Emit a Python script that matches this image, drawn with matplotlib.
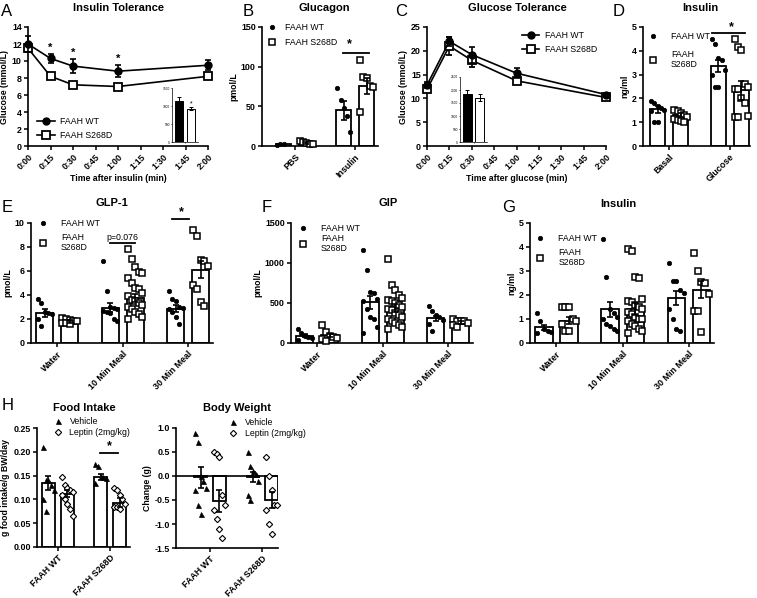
import numpy as np
import matplotlib
matplotlib.use('Agg')
import matplotlib.pyplot as plt
from matplotlib.lines import Line2D

plt.rcParams['font.family'] = ['Liberation Sans', 'DejaVu Sans']
plt.rcParams['axes.linewidth'] = 1.2
plt.rcParams['xtick.major.width'] = 1.1
plt.rcParams['ytick.major.width'] = 1.1
plt.rcParams['xtick.major.size'] = 3
plt.rcParams['ytick.major.size'] = 3
plt.rcParams['xtick.major.pad'] = 1.5
plt.rcParams['ytick.major.pad'] = 1.5

W, H = 757, 598

# ---------------- data ----------------
# A: insulin tolerance
itt_time = [0, 15, 30, 60, 120]
itt_wt = [12.0, 10.3, 9.4, 8.8, 9.5]
itt_wt_err = [0.9, 0.5, 0.8, 0.7, 0.6]
itt_ki = [11.5, 8.2, 7.2, 7.0, 8.2]
itt_ki_err = [0.4, 0.3, 0.2, 0.2, 0.3]
itt_star_times = [15, 30, 60]
itt_auc = [1150, 930]
itt_auc_err = [100, 30]

# C: glucose tolerance
gtt_time = [0, 15, 30, 60, 120]
gtt_wt = [12.8, 22.0, 19.2, 15.3, 10.8]
gtt_wt_err = [0.7, 1.0, 1.7, 1.0, 0.4]
gtt_ki = [11.9, 21.0, 18.0, 13.7, 10.2]
gtt_ki_err = [0.6, 1.8, 1.5, 0.5, 0.4]
gtt_auc = [1850, 1700]
gtt_auc_err = [150, 130]

time_ticks = [0, 15, 30, 45, 60, 75, 90, 105, 120]
time_labels = ['0:00', '0:15', '0:30', '0:45', '1:00', '1:15', '1:30', '1:45', '2:00']

# B: glucagon
glucagon_cats = ['PBS', 'Insulin']
glucagon_wt_mean = [2, 45]
glucagon_wt_sem = [0.5, 12]
glucagon_wt_pts = [[1, 2, 2], [73, 58, 48, 38, 18]]
glucagon_ki_mean = [4, 76]
glucagon_ki_sem = [1, 10]
glucagon_ki_pts = [[6, 5, 4, 3, 2], [108, 87, 86, 76, 75, 43]]

# D: insulin after glucose
ins_cats = ['Basal', 'Glucose']
ins_wt_mean = [1.55, 3.38]
ins_wt_sem = [0.15, 0.25]
ins_wt_pts = [[1.9, 1.8, 1.7, 1.6, 1.5, 1.45, 1.0, 1.0],
              [4.5, 4.3, 3.7, 3.6, 3.2, 3.0, 2.5, 2.5]]
ins_ki_mean = [1.3, 2.35]
ins_ki_sem = [0.07, 0.4]
ins_ki_pts = [[1.5, 1.45, 1.4, 1.3, 1.2, 1.15, 1.1, 1.05, 1.0],
              [4.5, 4.15, 4.05, 2.6, 2.5, 2.4, 2.4, 2.0, 1.8, 1.25, 1.2, 1.2]]

meal_cats = ['Water', '10 Min Meal', '30 Min Meal']

# E: GLP-1
glp_wt_mean = [2.5, 2.95, 2.85]
glp_wt_sem = [0.3, 0.35, 0.3]
glp_wt_pts = [[3.7, 3.3, 2.6, 2.5, 2.4, 2.0, 1.4],
              [6.8, 4.3, 3.0, 2.9, 2.8, 2.7, 2.6, 2.5, 2.0, 1.8],
              [4.3, 3.7, 3.5, 3.0, 2.9, 2.8, 2.6, 2.2, 1.6]]
glp_ki_mean = [1.8, 3.75, 6.1]
glp_ki_sem = [0.1, 0.35, 0.7]
glp_ki_pts = [[2.1, 2.0, 1.9, 1.8, 1.8, 1.7, 1.7, 1.6],
              [7.8, 7.0, 6.3, 5.9, 5.8, 5.4, 5.0, 4.6, 4.5, 4.2, 3.9, 3.6,
               3.5, 3.3, 3.2, 3.0, 2.8, 2.6, 2.4, 2.2, 2.0],
              [9.4, 8.9, 6.9, 6.8, 6.4, 4.8, 4.5, 3.4, 3.1]]

# F: GIP
gip_wt_mean = [90, 510, 310]
gip_wt_sem = [20, 80, 30]
gip_wt_pts = [[170, 130, 90, 80, 60, 40],
              [1160, 910, 640, 620, 550, 520, 420, 320, 300, 200, 120],
              [460, 400, 350, 320, 290, 240, 150]]
gip_ki_mean = [95, 440, 255]
gip_ki_sem = [20, 50, 15]
gip_ki_pts = [[225, 140, 90, 70, 60, 50, 30],
              [1050, 730, 660, 600, 560, 540, 530, 500, 470, 450, 420, 410,
               380, 350, 320, 300, 280, 250, 220, 200, 180],
              [300, 280, 280, 270, 250, 230, 200]]

# G: insulin after meal
mins_wt_mean = [0.65, 1.4, 1.87]
mins_wt_sem = [0.12, 0.3, 0.3]
mins_wt_pts = [[1.25, 0.9, 0.6, 0.5, 0.45, 0.4],
               [4.35, 2.75, 1.4, 1.25, 1.1, 1.0, 0.8, 0.7, 0.6, 0.5],
               [3.35, 2.6, 2.6, 2.2, 2.1, 1.4, 1.0, 0.6, 0.5]]
mins_ki_mean = [0.93, 1.4, 2.22]
mins_ki_sem = [0.15, 0.25, 0.35]
mins_ki_pts = [[1.5, 1.5, 1.5, 1.0, 0.9, 0.8, 0.5, 0.5],
               [3.9, 3.85, 2.75, 2.7, 1.85, 1.75, 1.7, 1.6, 1.5, 1.4, 1.3,
                1.2, 1.1, 1.0, 1.0, 0.9, 0.8, 0.7, 0.6, 0.5, 0.4],
               [3.75, 3.0, 2.55, 2.5, 2.05, 1.35, 1.35, 0.45]]

# H: leptin
geno_cats = ['FAAH WT', 'FAAH S268D']
food_veh_mean = [0.135, 0.147]
food_veh_sem = [0.015, 0.007]
food_veh_pts = [[0.21, 0.14, 0.14, 0.13, 0.12, 0.10, 0.075],
                [0.175, 0.17, 0.15, 0.148, 0.145, 0.135]]
food_lep_mean = [0.112, 0.093]
food_lep_sem = [0.008, 0.01]
food_lep_pts = [[0.147, 0.13, 0.125, 0.12, 0.115, 0.11, 0.10, 0.09, 0.08, 0.065],
                [0.123, 0.12, 0.11, 0.10, 0.09, 0.085, 0.085, 0.08]]
bw_veh_mean = [-0.03, -0.02]
bw_veh_sem = [0.22, 0.1]
bw_veh_pts = [[0.9, 0.7, 0.0, -0.1, -0.25, -0.3, -0.6, -0.8],
              [0.5, 0.2, 0.1, 0.05, -0.1, -0.4, -0.5]]
bw_lep_mean = [-0.52, -0.5]
bw_lep_sem = [0.22, 0.17]
bw_lep_pts = [[0.5, 0.45, 0.4, -0.4, -0.6, -0.7, -0.9, -1.1, -1.3],
              [0.4, 0.0, -0.3, -0.6, -0.6, -0.7, -1.0, -1.2]]

# ---------------- styles ----------------
wt_line = dict(color='black', marker='o', ms=5, mfc='black', mec='black', lw=1.2)
ki_line = dict(color='black', marker='s', ms=5.5, mfc='white', mec='black', mew=1.3, lw=1.2)
wt_pt = dict(marker='o', ms=3.2, mfc='black', mec='black', mew=0.5)
ki_pt = dict(marker='s', ms=4.2, mfc='white', mec='black', mew=1.1)
veh_pt = dict(marker='^', ms=3.6, mfc='black', mec='black', mew=0.5)
lep_pt = dict(marker='D', ms=3.2, mfc='white', mec='black', mew=0.8)

TICK_FS = 6.4
LAB_FS = 6.3

fig = plt.figure(figsize=(W / 100, H / 100), dpi=100)


def px_axes(x0, y0, x1, y1):
    return fig.add_axes([x0 / W, 1 - y1 / H, (x1 - x0) / W, (y1 - y0) / H])


def prism(ax):
    ax.spines['top'].set_visible(False)
    ax.spines['right'].set_visible(False)
    ax.tick_params(labelsize=TICK_FS)
    for lab in ax.get_yticklabels():
        lab.set_fontweight('bold')


def jitter(n, width):
    # spread points across the bar in a fixed 5-column pattern
    k = np.arange(n)
    return ((k % 5) - 2) / 2.0 * width * 0.42


def bars(ax, pos, means, sems, pts, style, width):
    x = np.arange(len(means)) + pos
    ax.bar(x, means, width, color='white', edgecolor='black', lw=1.3, zorder=1)
    for i in range(len(means)):
        ax.plot(x[i] + jitter(len(pts[i]), width), pts[i], ls='none',
                zorder=3, clip_on=False, **style)
    ax.errorbar(x, means, yerr=sems, fmt='none', ecolor='black', elinewidth=1.2,
                capsize=2.5, capthick=1.2, zorder=4)


def cat_axis(ax, cats):
    ax.set_xticks(range(len(cats)))
    ax.set_xticklabels(cats, rotation=45, ha='right', rotation_mode='anchor',
                       fontweight='bold', fontsize=TICK_FS)


def marker_legend(ax, styles, labels, anchor, spacing=0.6, pad=1.0):
    handles = [Line2D([], [], ls='none', **s) for s in styles]
    ax.legend(handles, labels, loc='upper left', bbox_to_anchor=anchor, frameon=False,
              fontsize=6.3, handlelength=1.0, handletextpad=pad, labelspacing=spacing,
              borderaxespad=0, borderpad=0)


def time_axis(ax):
    ax.set_xlim(0, 120)
    ax.set_xticks(time_ticks)
    ax.set_xticklabels(time_labels, rotation=45, ha='right', rotation_mode='anchor',
                       fontweight='bold', fontsize=TICK_FS)


def small_inset(ax, vals, errs, ymax, step, star=False):
    ax.bar([0, 1], vals, 0.7, color=['black', 'white'], edgecolor='black', lw=0.7)
    ax.errorbar([0, 1], vals, yerr=errs, fmt='none', ecolor='black', elinewidth=0.7,
                capsize=1.2, capthick=0.7)
    ax.set_xlim(-0.6, 1.6)
    ax.set_ylim(0, ymax)
    ax.set_yticks(np.arange(0, ymax + 1, step))
    ax.set_xticks([0.5])
    ax.set_xticklabels([])
    ax.spines['top'].set_visible(False)
    ax.spines['right'].set_visible(False)
    for s in ['left', 'bottom']:
        ax.spines[s].set_linewidth(0.5)
    ax.tick_params(labelsize=2.3, width=0.5, length=1, pad=0.5)
    if star:
        ax.text(1, vals[1] + errs[1], '*', ha='center', va='bottom', fontsize=5)


# ---------------- A ----------------
ax = px_axes(28, 27, 208, 146)
ax.errorbar(itt_time, itt_wt, yerr=itt_wt_err, capsize=2.5, elinewidth=1.2,
            capthick=1.2, clip_on=False, zorder=4, **wt_line)
ax.errorbar(itt_time, itt_ki, yerr=itt_ki_err, capsize=2.5, elinewidth=1.2,
            capthick=1.2, clip_on=False, zorder=3, **ki_line)
for t in itt_star_times:
    i = itt_time.index(t)
    ax.text(t, itt_wt[i] + itt_wt_err[i] + 0.2, '*', ha='center', va='bottom',
            fontsize=8, fontweight='bold')
ax.set_ylim(0, 14)
ax.set_yticks(range(0, 15, 2))
time_axis(ax)
prism(ax)
ax.set_ylabel('Glucose (mmol/L)', fontsize=LAB_FS, fontweight='bold', labelpad=2)
ax.set_xlabel('Time after insulin (min)', fontsize=LAB_FS, fontweight='bold', labelpad=2)
ax.legend([Line2D([], [], **wt_line), Line2D([], [], **ki_line)],
          ['FAAH WT', 'FAAH S268D'], loc='lower left', bbox_to_anchor=(0.05, 0.05),
          frameon=False, fontsize=6.3, handlelength=2.0, handletextpad=0.6,
          labelspacing=0.6, borderaxespad=0, borderpad=0)
small_inset(px_axes(172, 88, 198, 142), itt_auc, itt_auc_err, 1500, 500, star=True)

# ---------------- B ----------------
ax = px_axes(262, 27, 378, 146)
bars(ax, -0.19, glucagon_wt_mean, glucagon_wt_sem, glucagon_wt_pts, wt_pt, 0.25)
bars(ax, 0.19, glucagon_ki_mean, glucagon_ki_sem, glucagon_ki_pts, ki_pt, 0.25)
ax.set_xlim(-0.55, 1.38)
ax.set_ylim(0, 150)
ax.set_yticks([0, 50, 100, 150])
cat_axis(ax, glucagon_cats)
prism(ax)
ax.set_ylabel('pmol/L', fontsize=LAB_FS, fontweight='bold', labelpad=2)
ax.plot([0.8, 1.23], [117, 117], color='black', lw=1.3)
ax.text(0.9, 121, '*', fontsize=9, fontweight='bold', va='bottom', ha='center')
marker_legend(ax, [wt_pt, ki_pt], ['FAAH WT', 'FAAH S268D'], (0.05, 1.03))

# ---------------- C ----------------
ax = px_axes(427, 27, 606, 146)
ax.errorbar(gtt_time, gtt_wt, yerr=gtt_wt_err, capsize=2.5, elinewidth=1.2,
            capthick=1.2, clip_on=False, zorder=4, **wt_line)
ax.errorbar(gtt_time, gtt_ki, yerr=gtt_ki_err, capsize=2.5, elinewidth=1.2,
            capthick=1.2, clip_on=False, zorder=3, **ki_line)
ax.set_ylim(0, 25)
ax.set_yticks(range(0, 26, 5))
time_axis(ax)
prism(ax)
ax.set_ylabel('Glucose (mmol/L)', fontsize=LAB_FS, fontweight='bold', labelpad=2)
ax.set_xlabel('Time after glucose (min)', fontsize=LAB_FS, fontweight='bold', labelpad=2)
ax.legend([Line2D([], [], **wt_line), Line2D([], [], **ki_line)],
          ['FAAH WT', 'FAAH S268D'], loc='upper left', bbox_to_anchor=(0.53, 0.97),
          frameon=False, fontsize=6.3, handlelength=2.0, handletextpad=0.6,
          labelspacing=0.6, borderaxespad=0, borderpad=0)
small_inset(px_axes(460, 77, 487, 142), gtt_auc, gtt_auc_err, 2500, 500)

# ---------------- D ----------------
ax = px_axes(643, 27, 750, 146)
bars(ax, -0.19, ins_wt_mean, ins_wt_sem, ins_wt_pts, wt_pt, 0.25)
bars(ax, 0.19, ins_ki_mean, ins_ki_sem, ins_ki_pts, ki_pt, 0.25)
ax.set_xlim(-0.43, 1.33)
ax.set_ylim(0, 5)
ax.set_yticks(range(6))
cat_axis(ax, ins_cats)
prism(ax)
ax.set_ylabel('ng/ml', fontsize=LAB_FS, fontweight='bold', labelpad=2)
ax.plot([0.7, 1.25], [4.75, 4.75], color='black', lw=1.3)
ax.text(1.02, 4.72, '*', fontsize=9, fontweight='bold', va='bottom', ha='center')
marker_legend(ax, [wt_pt, ki_pt], ['FAAH WT', 'FAAH\nS268D'], (0.05, 0.96), spacing=1.0, pad=1.6)

# ---------------- E ----------------
ax = px_axes(31, 223, 213, 343)
bars(ax, -0.19, glp_wt_mean, glp_wt_sem, glp_wt_pts, wt_pt, 0.26)
bars(ax, 0.19, glp_ki_mean, glp_ki_sem, glp_ki_pts, ki_pt, 0.26)
ax.set_xlim(-0.4, 2.38)
ax.set_ylim(0, 10)
ax.set_yticks(range(0, 11, 2))
cat_axis(ax, meal_cats)
prism(ax)
ax.set_ylabel('pmol/L', fontsize=LAB_FS, fontweight='bold', labelpad=2)
ax.plot([0.81, 1.19], [8.33, 8.33], color='black', lw=1.3)
ax.text(1.0, 8.45, 'p=0.076', fontsize=6.3, va='bottom', ha='center')
ax.plot([1.76, 2.02], [10.3, 10.3], color='black', lw=1.3, clip_on=False)
ax.text(1.89, 10.4, '*', fontsize=9, fontweight='bold', va='bottom', ha='center')
marker_legend(ax, [wt_pt, ki_pt], ['FAAH WT', 'FAAH\nS268D'], (0.04, 1.03), spacing=0.5, pad=1.6)

# ---------------- F ----------------
ax = px_axes(291, 223, 473, 343)
bars(ax, -0.19, gip_wt_mean, gip_wt_sem, gip_wt_pts, wt_pt, 0.26)
bars(ax, 0.19, gip_ki_mean, gip_ki_sem, gip_ki_pts, ki_pt, 0.26)
ax.set_xlim(-0.4, 2.38)
ax.set_ylim(0, 1500)
ax.set_yticks([0, 500, 1000, 1500])
cat_axis(ax, meal_cats)
prism(ax)
ax.set_ylabel('pmol/L', fontsize=LAB_FS, fontweight='bold', labelpad=2)
marker_legend(ax, [wt_pt, ki_pt], ['FAAH WT', 'FAAH\nS268D'], (0.04, 0.99), spacing=0.1, pad=1.6)

# ---------------- G ----------------
ax = px_axes(530, 223, 714, 343)
bars(ax, -0.19, mins_wt_mean, mins_wt_sem, mins_wt_pts, wt_pt, 0.26)
bars(ax, 0.19, mins_ki_mean, mins_ki_sem, mins_ki_pts, ki_pt, 0.26)
ax.set_xlim(-0.4, 2.38)
ax.set_ylim(0, 5)
ax.set_yticks(range(6))
cat_axis(ax, meal_cats)
prism(ax)
ax.set_ylabel('ng/ml', fontsize=LAB_FS, fontweight='bold', labelpad=2)
marker_legend(ax, [wt_pt, ki_pt], ['FAAH WT', 'FAAH\nS268D'], (0.03, 0.91), spacing=0.6, pad=1.6)

# ---------------- H: food intake ----------------
ax = px_axes(37, 428, 130, 547)
bars(ax, -0.18, food_veh_mean, food_veh_sem, food_veh_pts, veh_pt, 0.24)
bars(ax, 0.18, food_lep_mean, food_lep_sem, food_lep_pts, lep_pt, 0.24)
ax.set_xlim(-0.4, 1.38)
ax.set_ylim(0, 0.25)
ax.set_yticks(np.arange(0, 0.26, 0.05))
ax.yaxis.set_major_formatter(matplotlib.ticker.FormatStrFormatter('%.2f'))
cat_axis(ax, geno_cats)
prism(ax)
ax.set_ylabel('g food intake/g BW/day', fontsize=LAB_FS, fontweight='bold', labelpad=2)
ax.plot([0.81, 1.15], [0.197, 0.197], color='black', lw=1.3)
ax.text(0.98, 0.199, '*', fontsize=9, fontweight='bold', va='bottom', ha='center')
marker_legend(ax, [veh_pt, lep_pt], ['Vehicle', 'Leptin (2mg/kg)'], (0.18, 1.09), spacing=0.2, pad=0.8)

# ---------------- H: body weight ----------------
ax = px_axes(176, 428, 278, 548)
bars(ax, -0.18, bw_veh_mean, bw_veh_sem, bw_veh_pts, veh_pt, 0.24)
bars(ax, 0.18, bw_lep_mean, bw_lep_sem, bw_lep_pts, lep_pt, 0.24)
ax.axhline(0, color='black', lw=1.2, zorder=2)
ax.set_xlim(-0.65, 1.3)
ax.set_ylim(-1.5, 1.0)
ax.set_yticks(np.arange(-1.5, 1.01, 0.5))
ax.yaxis.set_major_formatter(matplotlib.ticker.FormatStrFormatter('%.1f'))
cat_axis(ax, geno_cats)
prism(ax)
ax.set_ylabel('Change (g)', fontsize=LAB_FS, fontweight='bold', labelpad=2)
marker_legend(ax, [veh_pt, lep_pt], ['Vehicle', 'Leptin (2mg/kg)'], (0.52, 1.08), spacing=0.2, pad=0.8)

# ---------------- titles and panel letters ----------------
titles = [(118, 8, 'Insulin Tolerance'), (324, 8, 'Glucagon'), (517, 8, 'Glucose Tolerance'),
          (700, 8, 'Insulin'), (112, 203, 'GLP-1'), (388, 203, 'GIP'), (618, 204, 'Insulin'),
          (84, 408, 'Food Intake'), (237, 408, 'Body Weight')]
for x, y, t in titles:
    fig.text(x / W, 1 - y / H, t, ha='center', va='center', fontsize=8, fontweight='bold')
letters = [(7, 11, 'A'), (248, 11, 'B'), (401, 11, 'C'), (619, 11, 'D'),
           (7, 207, 'E'), (267, 207, 'F'), (509, 207, 'G'), (8, 405, 'H')]
for x, y, t in letters:
    fig.text(x / W, 1 - y / H, t, ha='center', va='center', fontsize=12)

fig.savefig('out.png', dpi=100)
